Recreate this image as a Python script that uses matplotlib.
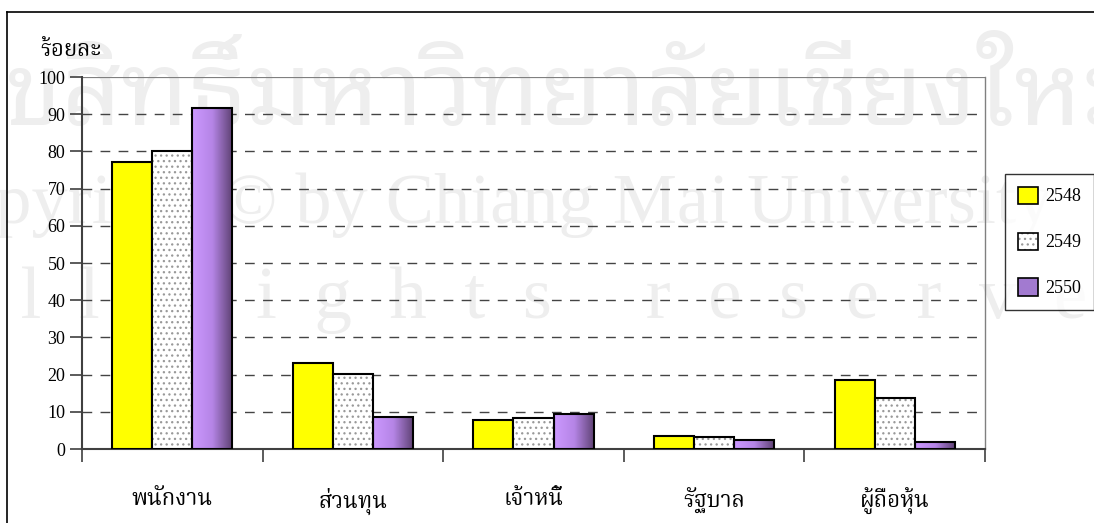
import matplotlib
matplotlib.use("Agg")
import matplotlib.pyplot as plt
import numpy as np
from matplotlib.colors import LinearSegmentedColormap
from matplotlib.patches import Rectangle
from matplotlib.legend_handler import HandlerTuple
import matplotlib.patches as mpatches

categories = ["พนักงาน", "ส่วนทุน", "เจ้าหนี้", "รัฐบาล", "ผู้ถือหุ้น"]
years = ["2548", "2549", "2550"]
v2548 = [77.2, 23.0, 7.7, 3.6, 18.5]
v2549 = [80.1, 20.2, 8.2, 3.2, 13.6]
v2550 = [91.7, 8.6, 9.4, 2.3, 2.0]
yticks = list(range(0, 101, 10))
ylabel = "ร้อยละ"
watermark = ["ลิขสิทธิ์มหาวิทยาลัยเชียงใหม่",
             "Copyright © by Chiang Mai University",
             "A  l  l     r  i  g  h  t  s     r  e  s  e  r  v  e  d"]

THAI = ['Norasi', 'Noto Serif Thai', 'Taviraj', 'Liberation Serif']
LAT = ['Liberation Serif', 'DejaVu Serif']

plt.rcParams['hatch.linewidth'] = 0.9
plt.rcParams['hatch.color'] = '#999999'

fig = plt.figure(figsize=(10.94, 5.23), dpi=100)

# watermark (behind everything)
wm = '#eeeeee'
fig.text(0.50, 1-98/523, watermark[0],
         family=['Noto Sans Thai Looped', 'Noto Sans Thai', 'DejaVu Sans'], fontsize=74,
         fontweight='bold', color=wm, ha='center', va='center', zorder=-10)
fig.text(0.44, 1-205/523, watermark[1], family=LAT, fontsize=52,
         color=wm, ha='center', va='center', zorder=-10)
fig.text(-67/1094, 1-300/523, watermark[2], family=LAT, fontsize=54,
         color=wm, ha='left', va='center', zorder=-10)

# outer frame
fig.add_artist(plt.Line2D([7/1094, 1.0], [1-12/523, 1-12/523], color='black', lw=1.2,
                          transform=fig.transFigure))
fig.add_artist(plt.Line2D([7/1094, 7/1094], [0.0, 1-12/523], color='black', lw=1.2,
                          transform=fig.transFigure))

ax = fig.add_axes([82/1094, 1-449/523, (985-82)/1094, (449-77)/523])
ax.set_facecolor('none')

x = np.arange(len(categories))
w = 0.222

b1 = ax.bar(x - w, v2548, w, color='#ffff00', edgecolor='black', linewidth=1.5, zorder=3)
b2h = ax.bar(x, v2549, w, color='white', edgecolor='#999999', linewidth=0, hatch='...', zorder=3)
b2 = ax.bar(x, v2549, w, color='none', edgecolor='black', linewidth=1.5, zorder=4)
b3 = ax.bar(x + w, v2550, w, color='none', edgecolor='black', linewidth=1.5, zorder=4)

cmap = LinearSegmentedColormap.from_list('purp', ['#cc99ff', '#b585e6', '#5c4070'])
grad = np.linspace(0, 1, 256).reshape(1, -1)
for r in b3:
    bx, by, bw, bh = r.get_x(), r.get_y(), r.get_width(), r.get_height()
    im = ax.imshow(grad, cmap=cmap, extent=[bx, bx + bw, by, by + bh], aspect='auto',
                   zorder=3, interpolation='bicubic')
    clip = Rectangle((bx, by), bw, bh, transform=ax.transData)
    im.set_clip_path(clip)

ax.set_xlim(-0.5, len(categories) - 0.5)
ax.set_ylim(0, 100)

# grid
for yv in yticks[1:-1]:
    ax.axhline(yv, color='#444444', lw=1.0, ls=(0, (7, 6)), zorder=1)
ax.axhline(100, color='#808080', lw=1.6, zorder=1)

ax.spines['top'].set_visible(False)
ax.spines['right'].set_color('#808080')
ax.spines['right'].set_linewidth(1.0)
ax.spines['left'].set_color('#404040')
ax.spines['left'].set_linewidth(1.5)
ax.spines['bottom'].set_color('#404040')
ax.spines['bottom'].set_linewidth(1.5)

ax.set_yticks(yticks)
ax.set_yticklabels([str(t) for t in yticks], family=LAT, fontsize=13)
ax.tick_params(axis='y', direction='out', length=9, width=1.2, color='#404040', pad=3)

ax.set_xticks(np.arange(-0.5, len(categories), 1.0))
ax.set_xticklabels([])
ax.tick_params(axis='x', which='major', direction='out', length=9, width=1.2, color='#404040')
ax.set_xticks(x, minor=True)
ax.set_xticklabels(categories, minor=True, family=THAI, fontsize=16)
ax.tick_params(axis='x', which='minor', length=0, pad=28)

fig.text(40/1094, 1-50/523, ylabel, family=THAI, fontsize=16, ha='left', va='center')

# legend
h1 = mpatches.Patch(facecolor='#ffff00', edgecolor='black', linewidth=1.2)
h2 = (mpatches.Patch(facecolor='white', edgecolor='#999999', hatch='...', linewidth=0),
      mpatches.Patch(facecolor='none', edgecolor='black', linewidth=1.2))
h3 = mpatches.Patch(facecolor='#a27ad0', edgecolor='black', linewidth=1.2)
leg = fig.legend([h1, h2, h3], years, loc='upper left',
                 bbox_to_anchor=(1005/1094, 1-174/523), bbox_transform=fig.transFigure,
                 prop={'family': LAT, 'size': 13}, frameon=True, fancybox=False,
                 edgecolor='black', handlelength=1.1, handleheight=1.1,
                 labelspacing=1.5, borderpad=0.7, handletextpad=0.45, borderaxespad=0,
                 handler_map={tuple: HandlerTuple(ndivide=1, pad=0)})
leg.get_frame().set_linewidth(1.0)

fig.savefig("out.png", dpi=100)
